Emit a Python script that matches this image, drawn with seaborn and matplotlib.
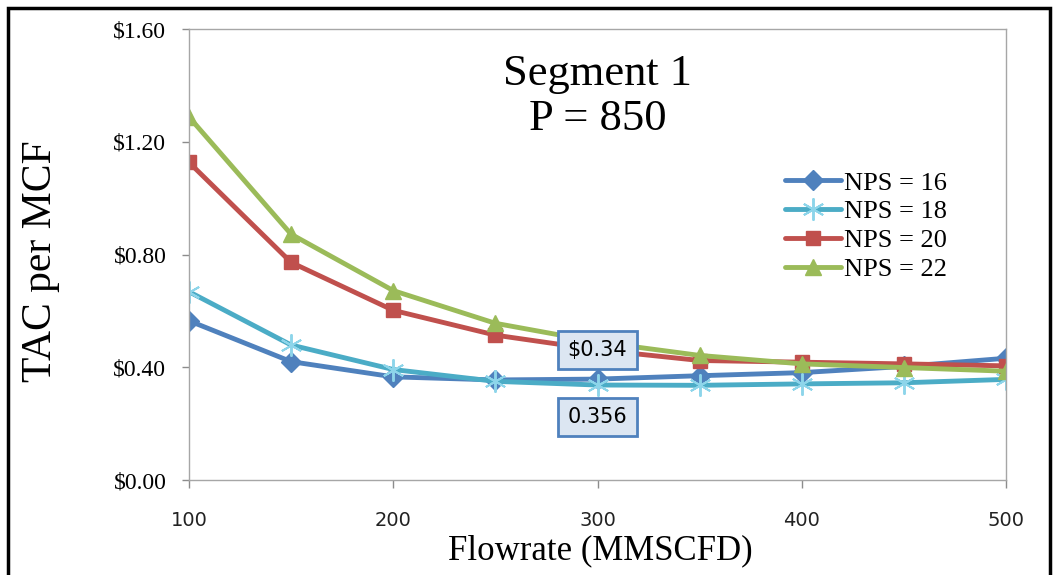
import matplotlib
matplotlib.use("Agg")
import matplotlib.pyplot as plt
from matplotlib.patches import Rectangle
import seaborn as sns
import pandas as pd

# ---- data ----
flowrate = [100, 150, 200, 250, 300, 350, 400, 450, 500]
nps16 = [0.565, 0.420, 0.366, 0.355, 0.358, 0.370, 0.381, 0.403, 0.432]
nps18 = [0.668, 0.479, 0.392, 0.350, 0.337, 0.336, 0.341, 0.345, 0.357]
nps20 = [1.127, 0.772, 0.602, 0.514, 0.462, 0.424, 0.418, 0.412, 0.405]
nps22 = [1.288, 0.872, 0.672, 0.556, 0.490, 0.442, 0.412, 0.399, 0.386]
series_names = ["NPS = 16", "NPS = 18", "NPS = 20", "NPS = 22"]
x_ticks = [100, 200, 300, 400, 500]
y_ticks = [0.0, 0.4, 0.8, 1.2, 1.6]
title_text = "Segment 1\nP = 850"
xlabel_text = "Flowrate (MMSCFD)"
ylabel_text = "TAC per MCF"
label_upper = "$0.34"
label_lower = "0.356"

sns.set_theme(style="white")
plt.rcParams["font.family"] = ["Liberation Serif", "DejaVu Serif"]
plt.rcParams["text.color"] = "black"
plt.rcParams["xtick.color"] = "black"
plt.rcParams["ytick.color"] = "black"
plt.rcParams["axes.labelcolor"] = "black"

fig = plt.figure(figsize=(10.57, 5.75), dpi=100)
ax = fig.add_axes([0.1788, 0.1652, 0.773, 0.7843])

styles = [
    dict(color="#4F81BD", marker="D", markersize=10, mfc="#4F81BD", mec="#4F81BD", mew=1),
    dict(color="#4BACC6", marker=(6, 2, 0), markersize=16, mfc="#8DD5EA", mec="#8DD5EA", mew=1.4),
    dict(color="#C0504D", marker="s", markersize=10, mfc="#C0504D", mec="#C0504D", mew=1),
    dict(color="#9BBB59", marker="^", markersize=11.5, mfc="#9BBB59", mec="#9BBB59", mew=1),
]
for name, vals, st in zip(series_names, [nps16, nps18, nps20, nps22], styles):
    df = pd.DataFrame({"Flowrate": flowrate, "TAC": vals})
    sns.lineplot(data=df, x="Flowrate", y="TAC", ax=ax, label=name,
                 linewidth=3.5, **st)

ax.set_xlim(100, 500)
ax.set_ylim(0, 1.6)
ax.set_xticks(x_ticks)
ax.set_yticks(y_ticks)
ax.set_yticklabels([f"${v:.2f}" for v in y_ticks], fontsize=17, family="Liberation Serif")
ax.set_xticklabels([str(v) for v in x_ticks], fontsize=14, family="DejaVu Sans")
ax.tick_params(axis="y", which="both", left=True, length=5.3, width=1, color="#8C8C8C",
               pad=11, direction="out", labelcolor="black")
ax.tick_params(axis="x", which="both", bottom=True, length=5.5, width=1, color="#8C8C8C",
               pad=17, direction="out", labelcolor="#222222")
for sp in ax.spines.values():
    sp.set_color("#A6A6A6")
    sp.set_linewidth(1)
ax.grid(False)

ax.set_xlabel(xlabel_text, fontsize=25, family="Liberation Serif", color="black")
ax.set_ylabel(ylabel_text, fontsize=30, family="Liberation Serif", color="black")
ax.xaxis.set_label_coords(0.503, -0.12)
ax.yaxis.set_label_coords(-0.158, 0.485)

ax.text(0.5, 0.85, title_text, transform=ax.transAxes, ha="center", va="center",
        fontsize=32, linespacing=1.18, family="Liberation Serif", color="black")

bbox_style = dict(boxstyle="square,pad=0.45", fc="#DCE6F2", ec="#4F81BD", lw=2)
ax.annotate(label_upper, xy=(flowrate[4], nps16[4]), xytext=(0, 21), textcoords="offset points",
            ha="center", va="center", fontsize=15, family="DejaVu Sans", color="black", bbox=bbox_style)
ax.annotate(label_lower, xy=(flowrate[4], nps18[4]), xytext=(0, -23), textcoords="offset points",
            ha="center", va="center", fontsize=15, family="DejaVu Sans", color="black", bbox=bbox_style)

leg = ax.legend(loc="upper left", bbox_to_anchor=(0.73, 0.685), frameon=False,
                fontsize=19, handlelength=2.1, handletextpad=0.1, labelspacing=0.2,
                borderpad=0, borderaxespad=0)
for t in leg.get_texts():
    t.set_color("black")

fig.patches.append(Rectangle((0.0076, -0.05), 0.9858, 1.036, transform=fig.transFigure,
                             fill=False, ec="black", lw=2.5, zorder=10))

fig.savefig("out.png", dpi=100, facecolor="white")
